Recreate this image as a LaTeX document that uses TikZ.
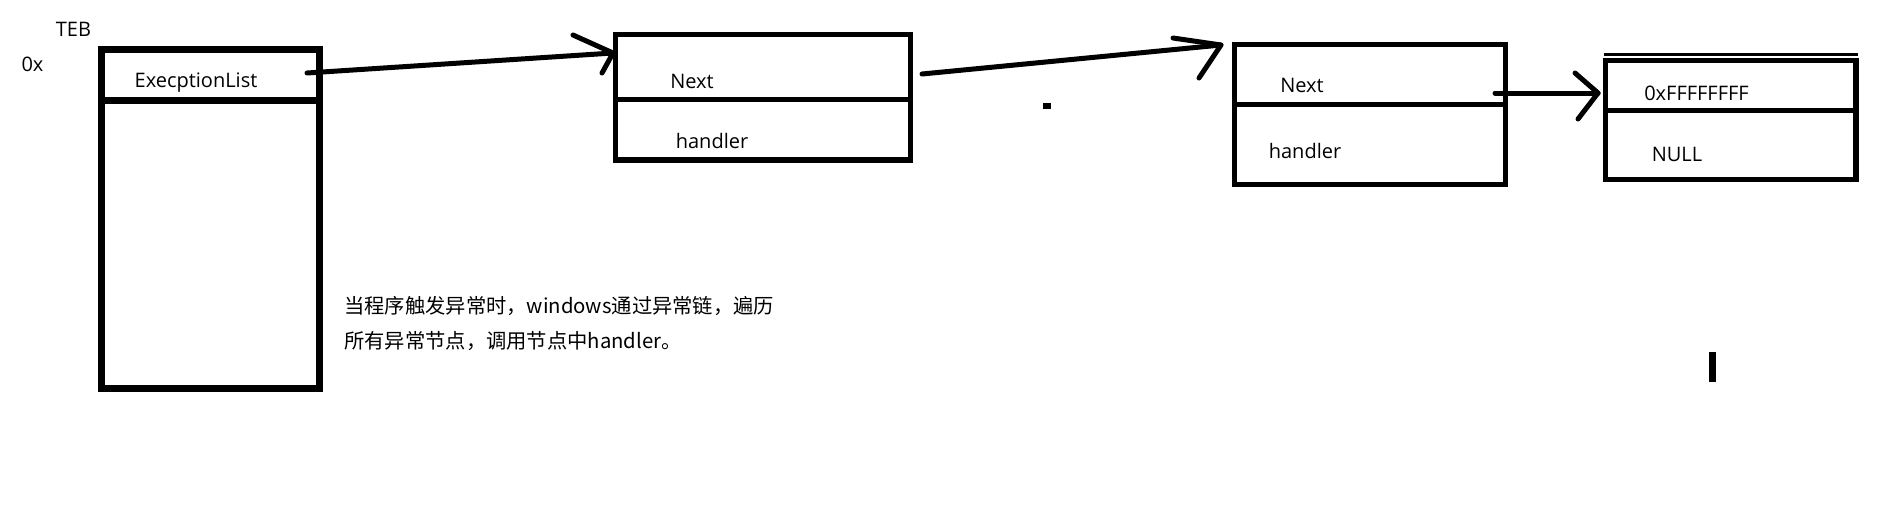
\documentclass[tikz,border=0pt]{standalone}
\usepackage{fontspec}
\setmainfont{Open Sans}
\newfontfamily\cjk{Noto Sans CJK SC}
\usetikzlibrary{calc}
\tikzset{
  cell/.style={draw, line width=5.5pt, inner sep=0pt, outer sep=0pt, rectangle},
  lbl/.style={inner sep=0pt, anchor=base, font=\fontsize{20pt}{24pt}\selectfont},
  note/.style={inner sep=0pt, anchor=base west, font=\cjk\fontsize{20.3pt}{25pt}\selectfont},
  link/.style={line width=5pt, line cap=round, line join=round},
}
\begin{document}
\begin{tikzpicture}[x=1pt,y=-1pt]
\fill[white] (0,0) rectangle (1889,528);
\useasboundingbox (0,0) rectangle (1889,528);

% TEB box
\node[cell, line width=7pt, minimum width=218pt, minimum height=51pt] (b1a) at (210,75) {};
\node[cell, line width=7pt, minimum width=218pt, minimum height=287.5pt] (b1b) at (210,244.25) {};
\node[lbl] (teb) at (73.5,36.5) {TEB};
\node[lbl] (ox) at (32.5,71.5) {0x};
\node[lbl] (el) at (196,87) {ExecptionList};

% node 2
\node[cell, minimum width=295pt, minimum height=65pt] (b2a) at (763,67) {};
\node[cell, minimum width=295pt, minimum height=60.5pt] (b2b) at (763,129.75) {};
\node[lbl] (n2) at (692,88.3) {Next};
\node[lbl] (h2) at (712,148.3) {handler};

% node 3
\node[cell, minimum width=271pt, minimum height=60pt] (b3a) at (1370,74.5) {};
\node[cell, minimum width=271pt, minimum height=80pt] (b3b) at (1370,144.5) {};
\node[lbl] (n3) at (1302,92.3) {Next};
\node[lbl] (h3) at (1305,158.3) {handler};

% node 4
\node[cell, minimum width=250.5pt, minimum height=50pt] (b4a) at (1730.75,85.5) {};
\node[cell, minimum width=250.5pt, minimum height=69pt] (b4b) at (1730.75,145) {};
\draw[line width=3pt] ($(b4a.north west)+(-2,-6)$) -- ($(b4a.north east)+(2,-6)$);
\node[lbl] (ff) at (1696.5,100) {0xFFFFFFFF};
\node[lbl] (nl) at (1677,161.7) {NULL};

% note
\node[note] (t1) at (344,313) {当程序触发异常时，windows通过异常链，遍历};
\node[note] (t2) at (344,348) {所有异常节点，调用节点中handler。};

% arrow 1
\coordinate (a1s) at ($(b1a.east)+(-12,-2)$);
\coordinate (a1t) at ($(b2a.west)+(-2.5,-14)$);
\coordinate (a1u) at (573,35);
\coordinate (a1l) at (602,73);
\draw[link] (a1s) -- (a1t);
\draw[link] (a1u) -- (a1t) -- (a1l);

% arrow 2
\coordinate (a2s) at ($(b2a.east)+(11.5,7)$);
\coordinate (a2t) at ($(b3a.west)+(-13.5,-29.5)$);
\coordinate (a2u) at (1173,38);
\coordinate (a2l) at (1199,78);
\draw[link] (a2s) -- (a2t);
\draw[link] (a2u) -- (a2t) -- (a2l);

% arrow 3
\coordinate (a3s) at ($(b3a.east)+(-10.5,18.5)$);
\coordinate (a3t) at ($(b4a.west)+(-7.5,7.5)$);
\coordinate (a3u) at (1575,73);
\coordinate (a3l) at (1578,119);
\draw[link] (a3s) -- (a3t);
\draw[link] (a3u) -- (a3t) -- (a3l);

% stray marks
\fill (1043,103) rectangle (1051,109);
\fill (1709,352) rectangle (1716,382);
\end{tikzpicture}
\end{document}
